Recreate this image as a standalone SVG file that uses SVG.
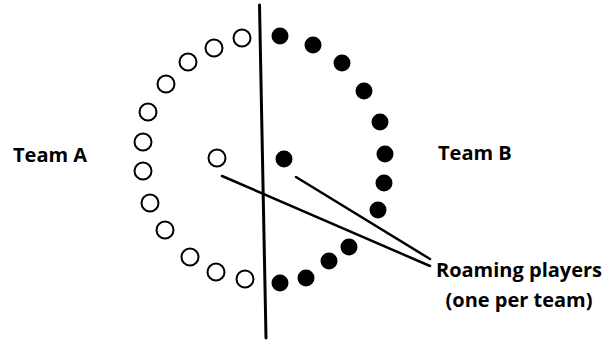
<svg xmlns="http://www.w3.org/2000/svg" width="604" height="341" viewBox="0 0 604 341">
<style>
.a{fill:#fff;stroke:#000;stroke-width:2}
.b{fill:#000}
.t{font-family:"Open Sans","Liberation Sans",sans-serif;font-weight:bold;font-size:20px;fill:#000}
.c{stroke:#000;fill:none;stroke-linecap:round}
</style>
<rect width="604" height="341" fill="#fff"/>
<g id="teamA">
<circle class="a" cx="242" cy="38" r="8.5"/>
<circle class="a" cx="214" cy="48" r="8.5"/>
<circle class="a" cx="188" cy="62" r="8.5"/>
<circle class="a" cx="166" cy="84" r="8.5"/>
<circle class="a" cx="148" cy="112" r="8.5"/>
<circle class="a" cx="143" cy="142" r="8.5"/>
<circle class="a" cx="143" cy="171" r="8.5"/>
<circle class="a" cx="150" cy="203" r="8.5"/>
<circle class="a" cx="165" cy="230" r="8.5"/>
<circle class="a" cx="190" cy="257" r="8.5"/>
<circle class="a" cx="216" cy="272" r="8.5"/>
<circle class="a" cx="245" cy="279" r="8.5"/>
</g>
<g id="roamerA"><circle class="a" cx="217" cy="158" r="8.5"/></g>
<g id="teamB">
<circle class="b" cx="280" cy="36" r="8.5"/>
<circle class="b" cx="313" cy="45" r="8.5"/>
<circle class="b" cx="342" cy="63" r="8.5"/>
<circle class="b" cx="364" cy="91" r="8.5"/>
<circle class="b" cx="380" cy="122" r="8.5"/>
<circle class="b" cx="385" cy="154" r="8.5"/>
<circle class="b" cx="384" cy="183" r="8.5"/>
<circle class="b" cx="378" cy="210" r="8.5"/>
<circle class="b" cx="349" cy="247" r="8.5"/>
<circle class="b" cx="329" cy="261" r="8.5"/>
<circle class="b" cx="306" cy="278" r="8.5"/>
<circle class="b" cx="280" cy="283" r="8.5"/>
</g>
<g id="roamerB"><circle class="b" cx="284" cy="159" r="8.5"/></g>
<g id="divider"><line class="c" x1="259.5" y1="5" x2="266" y2="338" stroke-width="3"/></g>
<g id="connectors">
<line class="c" x1="222" y1="176" x2="430" y2="266" stroke-width="2.5"/>
<line class="c" x1="296" y1="177" x2="430" y2="259" stroke-width="2.5"/>
</g>
<g id="labels">
<text class="t" x="13" y="162">Team A</text>
<text class="t" x="438" y="160">Team B</text>
<text class="t" x="519" y="277" text-anchor="middle">Roaming players</text>
<text class="t" x="519" y="307" text-anchor="middle">(one per team)</text>
</g>
</svg>
